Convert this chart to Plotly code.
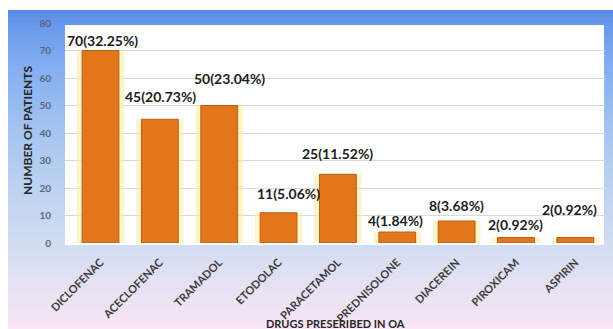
import plotly.graph_objects as go

# Drug usage in osteoarthritis patients
drugs = ["DICLOFENAC", "ACECLOFENAC", "TRAMADOL", "ETODOLAC", "PARACETAMOL",
         "PREDNISOLONE", "DIACEREIN", "PIROXICAM", "ASPIRIN"]
patients = [70, 45, 50, 11, 25, 4, 8, 2, 2]
percent = ["32.25", "20.73", "23.04", "5.06", "11.52", "1.84", "3.68", "0.92", "0.92"]
y_ticks = [0, 10, 20, 30, 40, 50, 60, 70, 80]

# Label placement tweaks (pixels)
label_dy = [0, 12, 17, 9, 10, 1, 5, 3, 18]
label_dx = [2, 1, 10, 10, 0, -2, 0, 0, -6]

W, H = 613, 329
L, R, T, B = 65, 8, 23, 86

fig = go.Figure()

# soft glow behind each bar
fig.add_trace(go.Bar(
    x=drugs, y=patients, width=0.8,
    marker=dict(color="rgba(255,236,160,0.55)", line=dict(width=0)),
    hoverinfo="skip", showlegend=False,
))
fig.add_trace(go.Bar(
    x=drugs, y=patients, width=0.62,
    marker=dict(color="#E3761A", line=dict(color="#B95E16", width=1)),
    showlegend=False,
))

annotations = []
for d, v, p, dy, dx in zip(drugs, patients, percent, label_dy, label_dx):
    annotations.append(dict(
        x=d, y=v, xref="x", yref="y", text=f"{v}({p}%)",
        showarrow=False, yanchor="bottom", xanchor="center",
        yshift=dy, xshift=dx,
        font=dict(family="Lato", size=14, color="#1c1c1c", weight="bold"),
    ))

# axis titles
annotations.append(dict(
    x=(335 - L) / (W - L - R), y=(H - B - 323) / (H - T - B),
    xref="paper", yref="paper", text="DRUGS PRESERIBED IN OA",
    showarrow=False, xanchor="center", yanchor="middle",
    font=dict(family="Lato", size=11, color="#262626", weight="bold"),
))
annotations.append(dict(
    x=(27 - L) / (W - L - R), y=(H - B - 131) / (H - T - B),
    xref="paper", yref="paper", text="NUMBER OF PATIENTS",
    showarrow=False, xanchor="center", yanchor="middle", textangle=-90,
    font=dict(family="Lato", size=12, color="#262626", weight="bold"),
))

# background: vertical blue-to-pink gradient framed inside a white margin
stops = [(10, (88, 138, 230)), (25, (104, 152, 236)), (60, (128, 172, 240)),
         (150, (174, 202, 240)), (245, (210, 221, 242)), (290, (232, 226, 243)),
         (329, (248, 230, 244))]


def color_at(py):
    for (y0, c0), (y1, c1) in zip(stops[:-1], stops[1:]):
        if y0 <= py <= y1:
            t = (py - y0) / (y1 - y0)
            return "rgb(%d,%d,%d)" % tuple(round(a + (b - a) * t) for a, b in zip(c0, c1))
    return "rgb(%d,%d,%d)" % stops[-1][1]


def px_x(px):
    return (px - L) / (W - L - R)


def px_y(py):
    return (H - B - py) / (H - T - B)


shapes = []
step = 4
for py in range(10, H, step):
    shapes.append(dict(
        type="rect", xref="paper", yref="paper", layer="below",
        x0=px_x(8), x1=px_x(W + 2), y0=px_y(py + step + 0.5), y1=px_y(py),
        fillcolor=color_at(py + step / 2), line=dict(width=0),
    ))
# white plot area panel
shapes.append(dict(
    type="rect", xref="paper", yref="paper", layer="below",
    x0=px_x(65), x1=px_x(604), y0=px_y(245), y1=px_y(25),
    fillcolor="white", line=dict(width=0),
))

fig.update_layout(
    width=W, height=H,
    margin=dict(l=L, r=R, t=T, b=B),
    paper_bgcolor="white", plot_bgcolor="rgba(0,0,0,0)",
    barmode="overlay", bargap=0.38,
    annotations=annotations, shapes=shapes,
    xaxis=dict(
        tickangle=-45, automargin=False, showgrid=False, zeroline=False,
        ticklabelstandoff=10,
        tickfont=dict(family="Lato", size=11, color="#3a3a3a", weight="bold"),
        showline=False,
    ),
    yaxis=dict(
        range=[0, 80], tickvals=y_ticks, automargin=False,
        showgrid=True, gridcolor="#D9D9D9", gridwidth=1, zeroline=False,
        ticklabelstandoff=13,
        tickfont=dict(family="Lato", size=10, color="#5a6478", weight="bold"),
    ),
)

fig.write_html("out.html")
